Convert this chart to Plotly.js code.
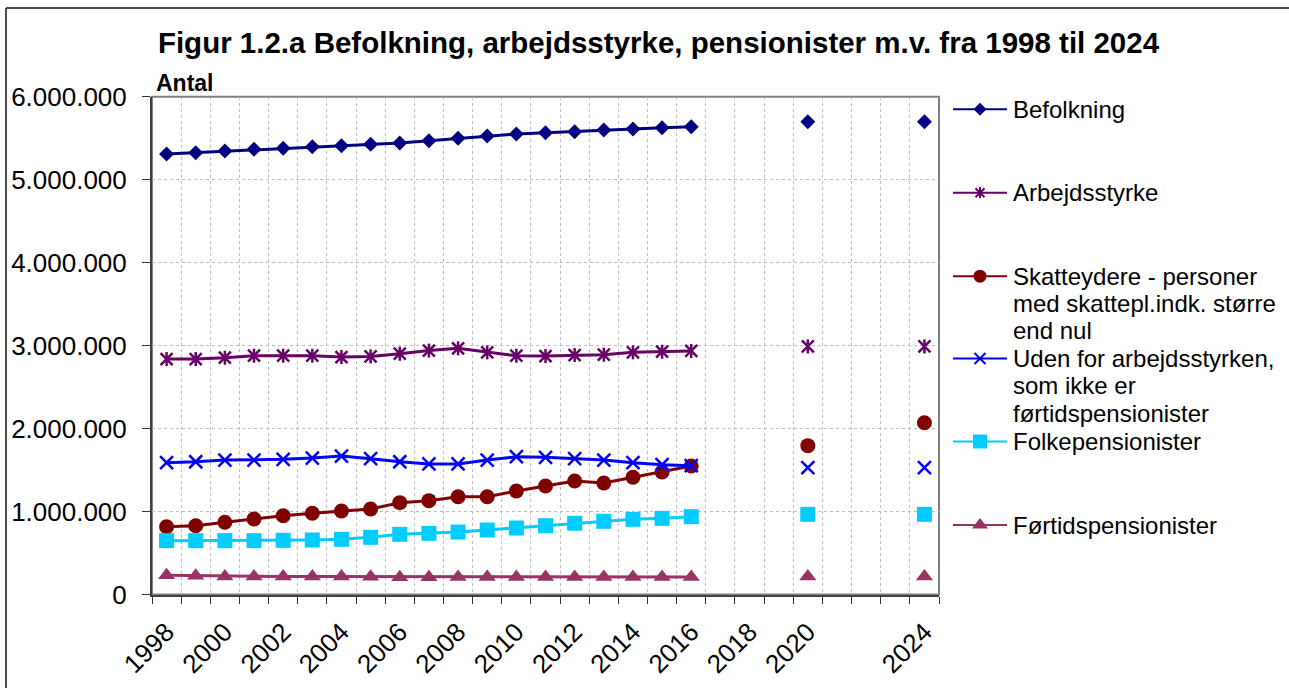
<!DOCTYPE html>
<html>
<head>
<meta charset="utf-8">
<script src="https://cdn.plot.ly/plotly-3.0.1.min.js"></script>
<style>
html,body{margin:0;padding:0;background:#fff;overflow:hidden;}
#chart{width:1289px;height:688px;}
</style>
</head>
<body>
<div id="chart"></div>
<script>
// ---------------- DATA ----------------
const years = [1998,1999,2000,2001,2002,2003,2004,2005,2006,2007,2008,2009,2010,2011,2012,2013,2014,2015,2016,2017,2018,2019,2020,2021,2022,2023,2024];

const befolkning = [5309000,5325000,5345000,5366000,5378000,5397000,5409000,5426000,5442000,5468000,5498000,5526000,5550000,5566000,5578000,5598000,5610000,5626000,5638000,null,null,null,5698000,null,null,null,5698000];

const arbejdsstyrke = [2838000,2838000,2854000,2878000,2878000,2878000,2862000,2870000,2902000,2940000,2967000,2919000,2878000,2874000,2886000,2890000,2919000,2926000,2935000,null,null,null,2990000,null,null,null,2990000];

const skatteydere = [817000,829000,870000,910000,950000,979000,1006000,1031000,1107000,1131000,1179000,1179000,1247000,1308000,1368000,1344000,1413000,1476000,1549000,null,null,null,1794000,null,null,null,2071000];

const udenFor = [1589000,1600000,1621000,1621000,1629000,1645000,1669000,1637000,1600000,1573000,1573000,1621000,1661000,1653000,1637000,1621000,1589000,1565000,1553000,null,null,null,1529000,null,null,null,1529000];

const folkepensionister = [649000,649000,649000,649000,653000,657000,665000,689000,725000,737000,753000,777000,801000,829000,858000,882000,906000,918000,938000,null,null,null,966000,null,null,null,966000];

const foertidspensionister = [231000,226000,218000,216000,216000,216000,216000,214000,208000,208000,210000,210000,210000,210000,210000,210000,210000,210000,210000,null,null,null,218000,null,null,null,218000];

const tickYears  = [1998,2000,2002,2004,2006,2008,2010,2012,2014,2016,2018,2020,2024];
const tickLabels = ['1998','2000','2002','2004','2006','2008','2010','2012','2014','2016','2018','2020','2024'];

const seriesNames = [
  'Befolkning',
  'Arbejdsstyrke',
  'Skatteydere - personer<br>med skattepl.indk. større<br>end nul',
  'Uden for arbejdsstyrken,<br>som ikke er<br>førtidspensionister',
  'Folkepensionister',
  'Førtidspensionister'
];

const chartTitle = 'Figur 1.2.a Befolkning, arbejdsstyrke, pensionister m.v. fra 1998 til 2024';
const yUnitLabel = 'Antal';

// ---------------- LAYOUT CONSTANTS ----------------
const W = 1289, H = 688;
const PL = 152, PR = 939, PT = 96.7, PB = 594.5;
const px = x => x / W;
const py = y => 1 - y / H;
const FONT = 'Arial, "Liberation Sans", sans-serif';

const seriesData = [befolkning, arbejdsstyrke, skatteydere, udenFor, folkepensionister, foertidspensionister];
const seriesStyle = [
  {color:'#000080', symbol:'diamond',     size:11.5, lw:0,   legSize:10},
  {color:'#660066', symbol:'x-thin-open', size:12, lw:2.5, legSize:9, star:true, starSize:10, legStarSize:8},
  {color:'#800000', symbol:'circle',      size:15, lw:0,   legSize:13},
  {color:'#0000FF', symbol:'x-thin-open', size:13, lw:2.5, legSize:11},
  {color:'#00CCFF', symbol:'square',      size:15, lw:0,   legSize:14},
  {color:'#993366', symbol:'triangle-up', size:15, lw:0,   legSize:14}
];

// legend geometry (pixels)
const LEG_Y = [109.3, 192.7, 276.2, 358.5, 441.5, 525];
const LEG_LINE_X = [953, 1007];
const LEG_MARK_X = 980;
const LEG_TEXT_X = 1011;
const LEG_LINE_GAP = 27.3;

// ---------------- TRACES ----------------
const traces = [];
seriesData.forEach((d, i) => {
  const s = seriesStyle[i];
  traces.push({
    type:'scatter', mode:'lines+markers', x: years, y: d, connectgaps:false,
    line:{color:s.color, width:3},
    marker:{symbol:s.symbol, size:s.size, color:s.color, line:{color:s.color, width:s.lw}},
    showlegend:false, hoverinfo:'skip', cliponaxis:false, xaxis:'x', yaxis:'y'
  });
  if (s.star) {
    traces.push({
      type:'scatter', mode:'markers', x: years, y: d,
      marker:{symbol:'line-ns-open', size:s.starSize, color:s.color, line:{color:s.color, width:s.lw}},
      showlegend:false, hoverinfo:'skip', cliponaxis:false, xaxis:'x', yaxis:'y'
    });
  }
});

// legend keys on helper axes (pixel space)
seriesStyle.forEach((s, i) => {
  const yy = LEG_Y[i];
  traces.push({
    type:'scatter', mode:'lines', x: LEG_LINE_X, y:[yy, yy],
    line:{color:s.color, width:2}, showlegend:false, hoverinfo:'skip',
    xaxis:'x2', yaxis:'y2', cliponaxis:false
  });
  traces.push({
    type:'scatter', mode:'markers', x:[LEG_MARK_X], y:[yy],
    marker:{symbol:s.symbol, size:s.legSize, color:s.color, line:{color:s.color, width:s.lw ? 2 : 0}},
    showlegend:false, hoverinfo:'skip', xaxis:'x2', yaxis:'y2', cliponaxis:false
  });
  if (s.star) {
    traces.push({
      type:'scatter', mode:'markers', x:[LEG_MARK_X], y:[yy],
      marker:{symbol:'line-ns-open', size:s.legStarSize, color:s.color, line:{color:s.color, width:2}},
      showlegend:false, hoverinfo:'skip', xaxis:'x2', yaxis:'y2', cliponaxis:false
    });
  }
});

// ---------------- ANNOTATIONS ----------------
const annotations = [];
annotations.push({
  text:'<b>' + yUnitLabel + '</b>', xref:'paper', yref:'paper',
  x: px(154), y: py(82.5), xanchor:'left', yanchor:'middle', showarrow:false,
  font:{family:FONT, size:23, color:'#000'}
});
seriesNames.forEach((name, i) => {
  name.split('<br>').forEach((line, k) => {
    annotations.push({
      text: line, xref:'paper', yref:'paper',
      x: px(LEG_TEXT_X), y: py(LEG_Y[i] + k * LEG_LINE_GAP),
      xanchor:'left', yanchor:'middle', showarrow:false,
      font:{family:FONT, size:24, color:'#000'}
    });
  });
});

// ---------------- LAYOUT ----------------
const layout = {
  width: W, height: H,
  margin:{l:0, r:0, t:0, b:0, pad:0},
  paper_bgcolor:'#ffffff', plot_bgcolor:'rgba(0,0,0,0)',
  separators:',.',
  showlegend:false,
  font:{family:FONT, color:'#000'},
  title:{
    text:'<b>' + chartTitle + '</b>',
    font:{family:FONT, size:29.5, color:'#000'},
    xref:'paper', yref:'paper', x: px(658.5), xanchor:'center', y: py(42.5), yanchor:'middle'
  },
  xaxis:{
    domain:[px(PL), px(PR)], range:[1997.5, 2024.5], anchor:'y',
    tickmode:'array', tickvals: tickYears, ticktext: tickLabels,
    tickangle:-45, ticks:'outside', ticklen:7, tickcolor:'rgba(0,0,0,0)',
    ticklabelstandoff:3,
    tickfont:{family:FONT, size:26, color:'#000'},
    showgrid:false, zeroline:false,
    showline:true, linecolor:'#404040', linewidth:2,
    minor:{tickmode:'linear', tick0:1997.5, dtick:1, ticks:'outside', ticklen:7, tickcolor:'#333', tickwidth:1,
           showgrid:true, gridcolor:'#bdbdbd', griddash:'dot', gridwidth:1},
    automargin:false, fixedrange:true
  },
  yaxis:{
    domain:[py(PB), py(PT)], range:[0, 6000000], anchor:'x',
    tickmode:'linear', tick0:0, dtick:1000000, tickformat:',d',
    ticks:'outside', ticklen:8, tickcolor:'#333', tickwidth:1,
    ticklabelstandoff:10,
    tickfont:{family:FONT, size:26, color:'#000'},
    showgrid:true, gridcolor:'#bdbdbd', griddash:'dot', gridwidth:1,
    zeroline:false, showline:true, linecolor:'#404040', linewidth:2,
    automargin:false, fixedrange:true
  },
  xaxis2:{domain:[px(941), px(1020)], range:[941, 1020], anchor:'y2', visible:false, fixedrange:true},
  yaxis2:{domain:[0, 1], range:[H, 0], anchor:'x2', visible:false, fixedrange:true},
  shapes:[
    {type:'rect', xref:'paper', yref:'paper', x0:px(PL), x1:px(PR), y0:py(PB), y1:py(PT),
     line:{color:'#808080', width:2}, fillcolor:'rgba(0,0,0,0)', layer:'below'},
    {type:'line', xref:'paper', yref:'paper', x0:px(6), x1:1, y0:py(8), y1:py(8), line:{color:'#111', width:1.5}},
    {type:'line', xref:'paper', yref:'paper', x0:px(6), x1:px(6), y0:py(8), y1:0, line:{color:'#111', width:1.5}}
  ],
  annotations: annotations
};

Plotly.newPlot('chart', traces, layout, {staticPlot:true, displayModeBar:false});
</script>
</body>
</html>
